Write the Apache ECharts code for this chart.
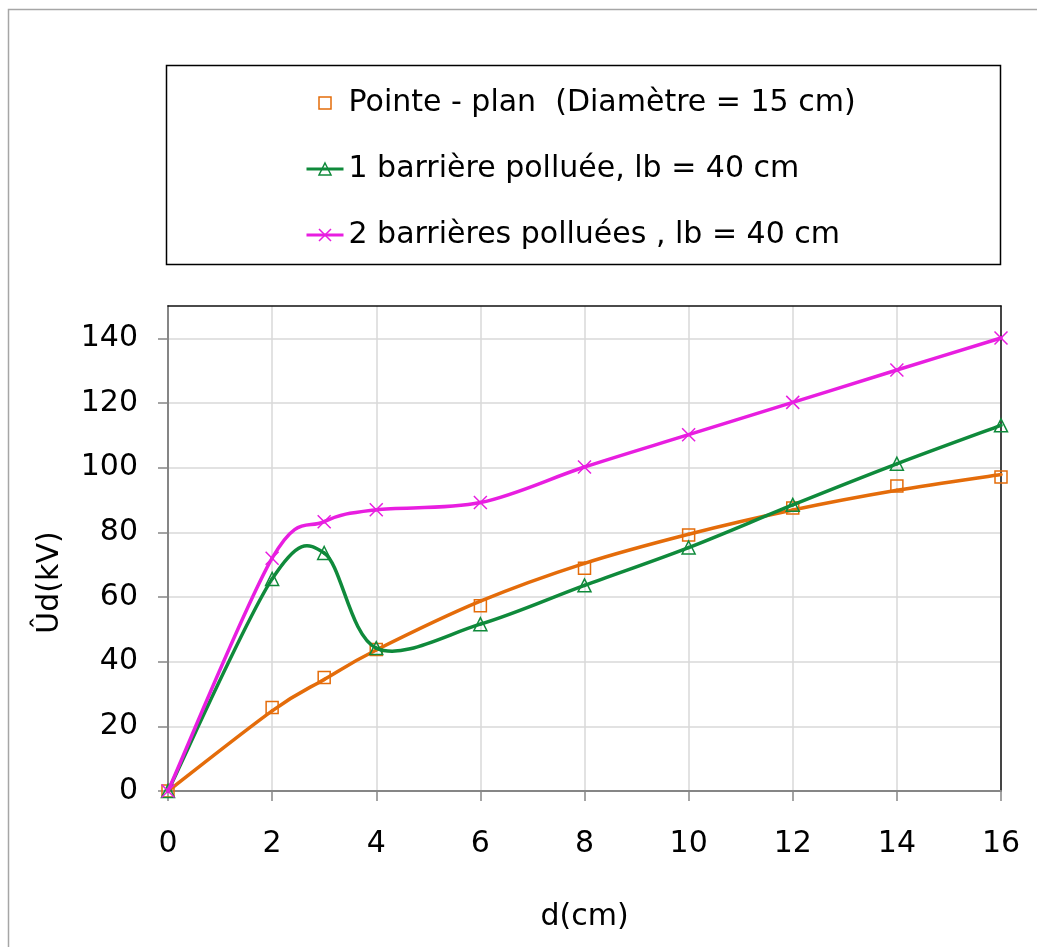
<!DOCTYPE html>
<html>
<head>
<meta charset="utf-8">
<script src="https://cdn.jsdelivr.net/npm/echarts@6/dist/echarts.min.js"></script>
<style>
html,body{margin:0;padding:0;background:#fff;}
#chart{width:1037px;height:947px;}
</style>
</head>
<body>
<div id="chart"></div>
<script>
// ---- data ----
const dValues = [0, 2, 3, 4, 6, 8, 10, 12, 14, 16];
const pointePlan = [0, 25.8, 35.1, 43.8, 57.3, 68.9, 79.2, 87.5, 94.3, 97.1];
const uneBarriere = [0, 65.6, 73.6, 44.2, 51.6, 63.6, 75.3, 88.5, 101.2, 113.1];
const deuxBarrieres = [0, 72.0, 83.3, 87.0, 89.2, 100.2, 110.2, 120.2, 130.2, 140.1];
// trend curve drawn through the orange points
const trendD = [0, 2, 3, 4, 6, 8, 10, 12, 14, 16];
const trendPointe = [0, 24.8, 34.5, 43.6, 58.7, 70.4, 79.4, 86.9, 93.0, 97.9];

const seriesNames = [
  'Pointe - plan  (Diamètre = 15 cm)',
  '1 barrière polluée, lb = 40 cm',
  '2 barrières polluées , lb = 40 cm'
];
const xTicks = {min: 0, max: 16, interval: 2};
const yTicks = {min: 0, max: 150, interval: 20};
const yTickValues = [0, 20, 40, 60, 80, 100, 120, 140];

const pairs = (xs, ys) => xs.map((x, i) => [x, ys[i]]);

const ORANGE = '#E46C0A';
const GREEN = '#0F8A3B';
const MAGENTA = '#E81EE0';
const FONT = 'DejaVu Sans';
const LW = 3.5;

// Smoothed curve (Excel-style Bezier) through data points, positioned via the chart's scales
function smoothCurve(name, xs, ys, color, z) {
  const n = xs.length;
  return {
    name: name, type: 'custom', data: pairs(xs, ys), encode: {x: 0, y: 1},
    silent: true, z: z,
    renderItem: function (params, api) {
      const i = params.dataIndex;
      if (i >= n - 1) return null;
      const P = k => {
        const j = Math.max(0, Math.min(n - 1, k));
        return api.coord([xs[j], ys[j]]);
      };
      const p0 = P(i - 1), p1 = P(i), p2 = P(i + 1), p3 = P(i + 2);
      return {
        type: 'bezierCurve',
        shape: {
          x1: p1[0], y1: p1[1], x2: p2[0], y2: p2[1],
          cpx1: p1[0] + (p2[0] - p0[0]) / 6, cpy1: p1[1] + (p2[1] - p0[1]) / 6,
          cpx2: p2[0] - (p3[0] - p1[0]) / 6, cpy2: p2[1] - (p3[1] - p1[1]) / 6
        },
        style: {stroke: color, lineWidth: LW, fill: 'none', lineCap: 'round'}
      };
    }
  };
}

function markerSeries(name, xs, ys, symbol, size, color, z) {
  return {
    name: name, type: 'line', data: pairs(xs, ys),
    symbol: symbol, symbolSize: size,
    lineStyle: {width: 0, opacity: 0},
    itemStyle: {color: 'rgba(255,255,255,0)', borderColor: color, borderWidth: 1.5},
    z: z
  };
}

const chart = echarts.init(document.getElementById('chart'), null, {renderer: 'canvas'});
chart.setOption({
  animation: false,
  backgroundColor: '#fff',
  textStyle: {fontFamily: FONT},
  graphic: [
    {type: 'rect', shape: {x: 8.5, y: 9.5, width: 1100, height: 1000}, style: {fill: 'none', stroke: '#A6A6A6', lineWidth: 1.5}, z: -10},
    {type: 'rect', shape: {x: 166.5, y: 65.5, width: 834, height: 199}, style: {fill: 'none', stroke: '#000', lineWidth: 1.5}, z: -5}
  ],
  legend: {
    orient: 'vertical',
    left: 305,
    top: 88,
    padding: 0,
    itemWidth: 37,
    itemHeight: 15,
    itemGap: 36,
    data: [
      {name: seriesNames[0]},
      {name: seriesNames[1], lineStyle: {color: GREEN, width: 3, opacity: 1}},
      {name: seriesNames[2], lineStyle: {color: MAGENTA, width: 3, opacity: 1}}
    ],
    textStyle: {fontFamily: FONT, fontSize: 30, color: '#000', lineHeight: 30},
    itemStyle: {borderWidth: 1.5}
  },
  grid: {
    left: 168, right: 36, top: 306, bottom: 156,
    show: false
  },
  xAxis: [{
    type: 'value', min: xTicks.min, max: xTicks.max, interval: xTicks.interval,
    name: 'd(cm)', nameLocation: 'middle', nameGap: 111,
    nameTextStyle: {fontFamily: FONT, fontSize: 30, color: '#000'},
    axisLine: {show: true, lineStyle: {color: '#868686', width: 2}},
    axisTick: {show: true, length: 10, lineStyle: {color: '#868686', width: 1.5}},
    axisLabel: {fontFamily: FONT, fontSize: 30, color: '#000', margin: 38},
    splitLine: {show: true, lineStyle: {color: '#D9D9D9', width: 1.5}}
  }, {
    type: 'value', position: 'top', min: xTicks.min, max: xTicks.max, interval: xTicks.interval,
    axisLine: {show: true, onZero: false, lineStyle: {color: '#111', width: 1.5}},
    axisTick: {show: false}, axisLabel: {show: false}, splitLine: {show: false}
  }],
  yAxis: [{
    type: 'value', min: yTicks.min, max: yTicks.max, interval: yTicks.interval,
    name: 'Ûd(kV)', nameLocation: 'middle', nameGap: 103, nameRotate: 90,
    nameTextStyle: {fontFamily: FONT, fontSize: 30, color: '#000', padding: [0, 68, 0, 0]},
    axisLine: {show: true, lineStyle: {color: '#868686', width: 2}},
    axisTick: {show: true, length: 10, customValues: yTickValues, lineStyle: {color: '#868686', width: 1.5}},
    axisLabel: {fontFamily: FONT, fontSize: 30, color: '#000', margin: 30, customValues: yTickValues},
    splitLine: {show: true, lineStyle: {color: '#D9D9D9', width: 1.5}}
  }, {
    type: 'value', position: 'right', min: yTicks.min, max: yTicks.max, interval: yTicks.interval,
    axisLine: {show: true, onZero: false, lineStyle: {color: '#111', width: 1.5}},
    axisTick: {show: false}, axisLabel: {show: false}, splitLine: {show: false}
  }],
  series: [
    markerSeries(seriesNames[0], dValues, pointePlan, 'rect', 12, ORANGE, 3),
    smoothCurve('Courbe pointe-plan', trendD, trendPointe, ORANGE, 4),
    smoothCurve('Courbe 1 barrière', dValues, uneBarriere, GREEN, 5),
    markerSeries(seriesNames[1], dValues, uneBarriere, 'triangle', 13, GREEN, 6),
    smoothCurve('Courbe 2 barrières', dValues, deuxBarrieres, MAGENTA, 7),
    markerSeries(seriesNames[2], dValues, deuxBarrieres, 'path://M0,0L10,10M10,0L0,10', 13, MAGENTA, 8)
  ]
});
</script>
</body>
</html>
